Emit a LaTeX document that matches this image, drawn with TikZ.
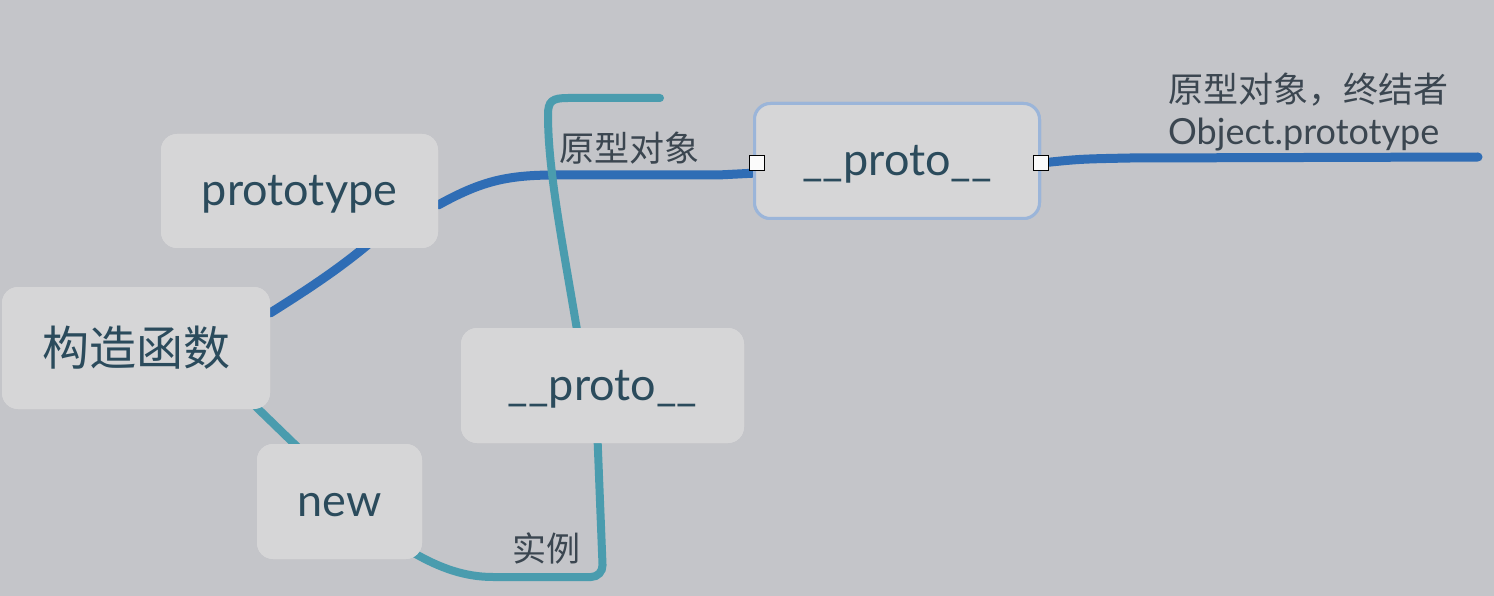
\documentclass[tikz,border=0pt]{standalone}
\usepackage{fontspec}
\setmainfont{Lato}
\newfontfamily\cjk{Noto Sans CJK SC}
\definecolor{bgc}{HTML}{C4C5C9}
\definecolor{nodefill}{HTML}{D6D6D7}
\definecolor{nodetext}{HTML}{2B4B5C}
\definecolor{lblue}{HTML}{2F6DB5}
\definecolor{lteal}{HTML}{4A9CAE}
\definecolor{lbltext}{HTML}{3B4650}
\definecolor{selborder}{HTML}{9BB5D9}
\tikzset{
  topic/.style={rectangle, rounded corners=16pt, fill=nodefill, text=nodetext, inner sep=0pt},
  latinfont/.style={font=\fontsize{45}{54}\selectfont, text height=30pt, text depth=0pt},
  handle/.style={rectangle, draw=black, fill=white!90!nodefill, line width=1.2pt, minimum width=15pt, minimum height=15pt, inner sep=0pt},
  blueline/.style={draw=lblue, line width=9pt, line cap=round},
  tealline/.style={draw=lteal, line width=8pt, line cap=round},
  lbl/.style={text=lbltext, inner sep=0pt},
}
\begin{document}
\begin{tikzpicture}[x=1pt,y=-1pt]
\useasboundingbox (0,0) rectangle (1494,596);
\fill[bgc] (0,0) rectangle (1494,596);

% node positions
\path
  node[topic, latinfont, minimum width=277pt, minimum height=114pt] (proto) at (299.5,191) {prototype}
  node[topic, minimum width=268pt, minimum height=122pt, font=\cjk\fontsize{47}{54}\selectfont] (ctor) at (136,348) {构造函数}
  node[topic, latinfont, minimum width=165pt, minimum height=115pt] (new) at (339.5,501.5) {new}
  node[topic, latinfont, minimum width=283pt, minimum height=115pt] (inst) at (602.5,385.5) {\_\_proto\_\_}
  node[topic, latinfont, minimum width=285pt, minimum height=115pt, draw=selborder, line width=3pt] (up) at (897,161) {\_\_proto\_\_};

% connectors
\coordinate (blueEnd) at (1478,157);
\coordinate (tealEnd) at (660,98);
\path[blueline] ([yshift=35pt]ctor.east) .. controls (310,288) and (340,268) .. ([xshift=70pt,yshift=5pt]proto.south);
\path[blueline] ([yshift=-14pt]proto.east) .. controls (480,182) and (505,175) .. (555,175) -- (718,175) -- (757,173);
\path[blueline] (1041,163) .. controls (1080,159) .. (1130,158) -- (blueEnd);
\path[tealline] ([xshift=-20pt,yshift=8pt]ctor.south east) -- ([xshift=-35pt,yshift=-10pt]new.north);
\path[tealline, rounded corners=12pt] ([xshift=-8pt,yshift=6pt]new.south east) .. controls (440,568) and (465,577) .. (505,577) -- (603,577) -- ([xshift=-5pt,yshift=5pt]inst.south);
\path[tealline] ([xshift=-25pt,yshift=-5pt]inst.north) .. controls (562,240) and (548,170) .. (548,115) .. controls (548,101) and (552,98) .. (568,98) -- (tealEnd);

% nodes drawn over the lines
\path
  node[topic, latinfont, minimum width=277pt, minimum height=114pt] at (proto.center) {prototype}
  node[topic, minimum width=268pt, minimum height=122pt, font=\cjk\fontsize{47}{54}\selectfont] at (ctor.center) {构造函数}
  node[topic, latinfont, minimum width=165pt, minimum height=115pt] at (new.center) {new}
  node[topic, latinfont, minimum width=283pt, minimum height=115pt] at (inst.center) {\_\_proto\_\_}
  node[topic, latinfont, minimum width=285pt, minimum height=115pt, draw=selborder, line width=3pt] at (up.center) {\_\_proto\_\_};

\node[handle] (sqL) at (757,163) {};
\node[handle] (sqR) at (1041,163) {};

% labels
\node[lbl, font=\cjk\fontsize{35}{40}\selectfont] (l1) at (629,148) {原型对象};
\node[lbl, font=\cjk\fontsize{34}{40}\selectfont] (l2) at (546,548) {实例};
\node[lbl, font=\cjk\fontsize{35}{40}\selectfont, anchor=west] (l3) at (1168,90) {原型对象，终结者};
\node[lbl, font=\fontsize{36}{40}\selectfont, anchor=west] (l4) at (1168,135) {Object.prototype};
\end{tikzpicture}
\end{document}
